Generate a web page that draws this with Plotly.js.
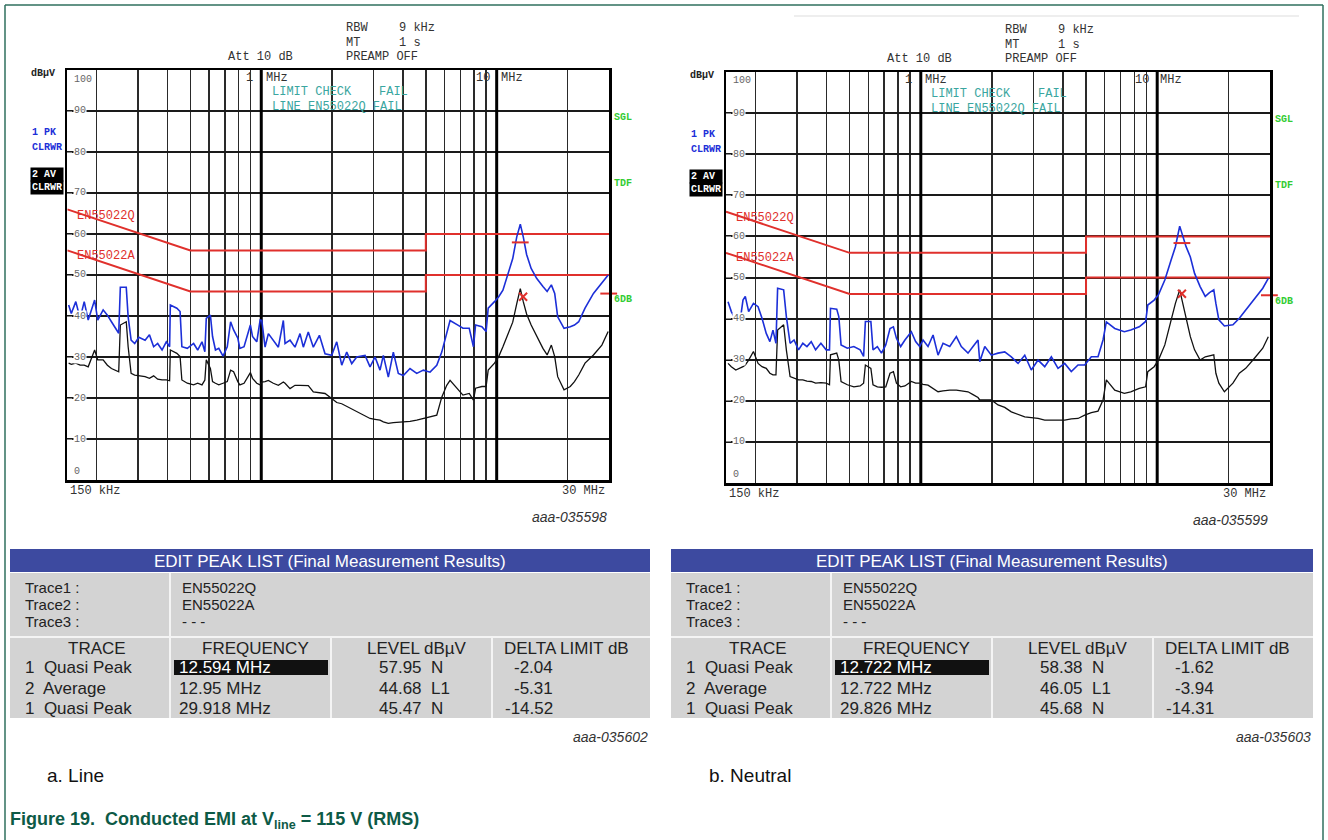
<!DOCTYPE html>
<html><head><meta charset="utf-8">
<script src="https://cdn.plot.ly/plotly-3.0.1.min.js"></script>
<style>html,body{margin:0;padding:0;background:#fff}#chart{width:1328px;height:840px}</style>
</head><body><div id="chart"></div>
<script>
// ---------------- DATA ----------------
// a. Line
const LINE_FREQ_MHZ = [0.152,0.156,0.163,0.170,0.177,0.184,0.196,0.202,0.213,0.222,0.231,0.241,0.248,0.252,0.267,0.272,0.280,0.290,0.302,0.321,0.335,0.349,0.363,0.379,0.395,0.408,0.411,0.438,0.452,0.460,0.485,0.516,0.537,0.560,0.576,0.584,0.608,0.621,0.639,0.660,0.688,0.717,0.741,0.763,0.795,0.811,0.845,0.899,0.918,0.957,0.989,1.005,1.038,1.072,1.125,1.182,1.241,1.262,1.325,1.391,1.461,1.509,1.584,1.664,1.766,1.866,1.992,2.092,2.197,2.307,2.423,2.544,2.760,2.898,3.042,3.195,3.300,3.465,3.639,3.821,4.013,4.284,4.575,4.881,5.211,5.565,5.844,6.135,6.338,6.872,7.190,7.646,7.968,8.136,8.654,9.017,9.204,9.790,10.20,10.63,11.31,11.70,12.17,12.60,12.97,13.40,14.01,14.78,15.72,16.38,17.07,17.64,18.16,19.32,20.54,21.40,22.31,23.73,25.77,27.98,29.76];
const LINE_PEAK_DBUV = [42.7,40.6,43.5,39.4,43.5,39.0,43.9,39.0,41.5,40.2,38.6,37.0,35.8,47.0,47.0,39.8,34.1,33.3,34.8,34.1,35.4,32.5,33.3,31.7,33.7,32.5,42.7,41.9,41.1,32.5,32.1,33.3,31.7,33.7,31.3,39.4,40.2,35.0,31.7,32.1,30.2,32.5,38.6,36.6,34.6,32.1,32.5,37.8,35.0,33.7,39.0,38.9,32.4,35.7,34.1,32.4,38.9,33.3,34.1,32.4,35.7,32.4,36.1,32.4,35.3,30.8,30.4,33.7,28.0,31.2,28.4,30.0,30.4,27.6,30.0,26.8,30.4,25.1,31.2,26.0,25.5,27.2,26.0,26.8,26.3,28.0,31.2,35.7,38.9,37.7,37.0,37.0,32.5,37.8,37.4,36.2,41.9,43.5,44.7,46.3,51.2,54.0,59.3,62.4,59.3,55.0,51.6,49.2,47.2,46.0,47.6,45.5,39.8,37.0,37.4,37.8,38.6,41.9,45.5,48.0,50.0];
const LINE_AVG_DBUV = [28.5,28.2,28.5,28.0,28.0,27.6,31.7,29.3,29.3,28.0,27.2,26.7,26.4,37.8,38.6,32.5,26.0,25.6,25.4,25.2,24.8,25.4,24.6,24.4,24.4,24.2,31.7,30.9,30.1,24.4,23.6,23.2,23.6,23.2,24.4,29.3,27.2,24.0,23.6,23.2,23.6,24.0,26.8,26.4,24.0,23.2,23.6,26.2,24.8,23.6,23.2,23.9,24.0,24.3,23.6,23.1,23.9,23.6,22.3,23.1,23.1,23.1,23.0,21.5,21.3,21.1,19.9,18.9,18.6,18.0,17.4,16.8,15.8,15.0,14.8,14.6,14.2,13.8,14.0,14.1,14.1,14.3,14.6,15.0,15.4,15.8,20.2,23.1,24.3,21.9,20.7,21.1,19.5,22.4,22.8,22.8,26.8,28.5,30.1,32.5,36.2,38.5,43.0,46.7,43.5,40.5,37.8,35.0,32.1,30.5,32.9,30.1,25.2,22.0,22.8,24.0,25.6,28.5,30.5,32.9,36.2];

// b. Neutral
const NEUTRAL_FREQ_MHZ = [0.153,0.158,0.165,0.172,0.177,0.181,0.187,0.196,0.205,0.213,0.222,0.230,0.237,0.244,0.248,0.263,0.270,0.280,0.291,0.304,0.317,0.330,0.344,0.359,0.378,0.398,0.411,0.415,0.441,0.450,0.460,0.489,0.521,0.554,0.573,0.583,0.615,0.628,0.655,0.682,0.711,0.741,0.766,0.789,0.822,0.857,0.912,0.951,0.990,1.022,1.073,1.127,1.183,1.242,1.326,1.414,1.484,1.584,1.663,1.746,1.776,1.865,1.988,2.122,2.265,2.415,2.579,2.753,2.934,3.133,3.344,3.567,3.807,4.062,4.332,4.624,4.935,5.265,5.619,5.901,6.093,6.614,7.262,7.727,8.396,8.935,9.122,9.707,10.12,10.77,11.46,11.94,12.45,13.25,13.81,14.39,15.19,15.97,16.64,17.35,17.71,18.23,19.24,20.91,22.25,23.68,25.73,27.96,29.51];
const NEUTRAL_PEAK_DBUV = [44.1,41.7,39.7,39.3,44.5,45.4,41.7,43.7,42.9,40.1,36.4,34.4,37.2,34.0,47.4,47.0,40.5,34.0,34.8,32.4,34.0,33.2,34.4,32.4,34.0,32.4,32.4,42.5,42.3,40.5,33.6,32.8,33.2,32.4,30.8,39.3,39.3,32.4,33.2,31.6,33.6,37.6,38.0,35.2,33.2,34.8,36.8,34.4,33.2,34.8,33.2,36.0,31.1,34.0,33.2,35.6,33.2,31.6,33.2,34.8,29.5,33.2,31.1,31.6,31.9,30.7,29.1,31.1,27.5,29.9,28.3,30.7,27.9,29.1,27.1,28.7,28.7,30.7,30.7,34.8,39.2,37.6,36.8,37.2,38.0,39.3,43.3,44.5,45.8,49.4,54.3,57.5,62.5,57.5,55.0,51.0,47.8,45.4,46.3,47.0,43.7,39.7,38.2,38.5,40.1,42.1,44.9,47.4,49.8];
const NEUTRAL_AVG_DBUV = [29.1,28.3,27.5,27.9,28.3,28.7,29.9,32.0,29.1,28.3,27.9,26.7,26.3,26.3,37.2,38.5,32.4,25.9,25.5,25.1,25.1,24.8,24.7,24.3,24.4,24.3,23.9,31.2,31.6,29.9,24.7,23.9,23.4,23.6,24.3,28.7,27.9,23.9,23.4,23.3,23.4,26.7,27.1,24.3,23.4,23.6,24.7,24.3,24.3,24.0,23.8,23.0,22.2,22.4,22.6,22.6,22.4,22.2,21.5,20.8,20.2,20.2,20.2,19.0,18.4,17.3,16.7,16.1,15.9,15.7,15.3,15.3,15.3,15.3,15.6,15.7,16.5,17.1,17.5,20.2,25.1,22.6,21.8,22.2,23.0,23.4,27.1,28.3,29.9,33.6,39.7,43.7,47.0,40.5,35.6,32.4,29.9,30.7,30.9,31.2,26.7,24.3,22.2,24.3,26.7,27.9,30.3,32.8,35.6];

// EN55022 class B limits
const LIMIT_FREQ_MHZ = [0.15, 0.5, 5, 5, 30];
const LIMIT_QP_DBUV = [66, 56, 56, 60, 60];
const LIMIT_AV_DBUV = [56, 46, 46, 50, 50];

// Peak list markers (QP, AV, QP at 30 MHz)
const LINE_MARK_FREQ = [12.594, 12.95, 29.918];
const LINE_MARK_LEVEL = [57.95, 44.68, 45.47];
const NEUTRAL_MARK_FREQ = [12.722, 12.722, 29.826];
const NEUTRAL_MARK_LEVEL = [58.38, 46.05, 45.68];

const Y_TICKS = [0,10,20,30,40,50,60,70,80,90,100];
const DECADE_MARKERS_MHZ = [1, 10];

// Tables
const TRACE_LABELS = ['Trace1 :', 'Trace2 :', 'Trace3 :'];
const TRACE_VALUES = ['EN55022Q', 'EN55022A', '- - -'];
const TABLE_HEADERS = ['TRACE', 'FREQUENCY', 'LEVEL dBµV', 'DELTA LIMIT dB'];
const ROW_TRACES = ['1  Quasi Peak', '2  Average', '1  Quasi Peak'];
const LINE_FREQ_TXT = ['12.594 MHz', '12.95 MHz', '29.918 MHz'];
const LINE_LEVEL_TXT = ['57.95  N', '44.68  L1', '45.47  N'];
const LINE_DELTA_TXT = ['-2.04', '-5.31', '-14.52'];
const NEUTRAL_FREQ_TXT = ['12.722 MHz', '12.722 MHz', '29.826 MHz'];
const NEUTRAL_LEVEL_TXT = ['58.38  N', '46.05  L1', '45.68  N'];
const NEUTRAL_DELTA_TXT = ['-1.62', '-3.94', '-14.31'];

// ---------------- DRAWING ----------------
const W = 1328, H = 840;
const px = x => x / W;
const py = y => 1 - y / H;
const MONO = 'Liberation Mono, Courier New, monospace';
const SANS = 'Liberation Sans, Arial, sans-serif';
const BLUE = '#1c2fd8', RED = '#e0302c', TEAL = '#3aa6a0', GREEN = '#33cc33';

const annotations = [];
const shapes = [];
function ann(x, y, text, o) {
  annotations.push(Object.assign({xref:'paper', yref:'paper', x:px(x), y:py(y), text:text,
    showarrow:false, xanchor:'left', yanchor:'middle',
    font:{family:MONO, size:12, color:'#333'}}, o || {}));
}
function rect(x0, y0, x1, y1, fill) {
  shapes.push({type:'rect', xref:'paper', yref:'paper', x0:px(x0), x1:px(x1), y0:py(y0), y1:py(y1),
    fillcolor:fill, line:{width:0}, layer:'below'});
}
function line(x0, y0, x1, y1, color, w) {
  shapes.push({type:'line', xref:'paper', yref:'paper', x0:px(x0), x1:px(x1), y0:py(y0), y1:py(y1),
    line:{color:color, width:w}});
}

const PLOTS = [
  {L:67.3, T:70, Wd:541.7, Ht:410, id:'aaa-035598'},
  {L:726, T:72, Wd:544, Ht:411, id:'aaa-035599'}
];

function decor(p) {
  const {L, T, Wd, Ht} = p;
  const m = {family:MONO, size:12, color:'#333'};
  ann(L+277, T-42, 'RBW', {font:m}); ann(L+330, T-42, '9 kHz', {font:m});
  ann(L+277, T-27, 'MT', {font:m}); ann(L+330, T-27, '1 s', {font:m});
  ann(L+159, T-13, 'Att 10 dB', {font:m}); ann(L+277, T-13, 'PREAMP OFF', {font:m});
  ann(L-38, T+3, '<b>dBµV</b>', {font:{family:MONO, size:10, color:'#222'}});
  ann(L+177, T+8, '1', {font:m}); ann(L+197, T+8, 'MHz', {font:m});
  ann(L+407, T+8, '10', {font:m}); ann(L+432, T+8, 'MHz', {font:m});
  const t = {family:MONO, size:12, color:TEAL};
  ann(L+203, T+22, 'LIMIT CHECK', {font:t}); ann(L+310, T+22, 'FAIL', {font:t});
  ann(L+203, T+37, 'LINE EN55022Q FAIL', {font:t});
  const b = {family:MONO, size:10, color:BLUE};
  ann(L-37, T+62, '<b>1 PK</b>', {font:b}); ann(L-37, T+77, '<b>CLRWR</b>', {font:b});
  const w = {family:MONO, size:10, color:'#fff'};
  ann(L-37, T+104, '<b>2 AV</b>', {font:w, bgcolor:'#000', width:30, align:'left', borderpad:1});
  ann(L-37, T+118, '<b>CLRWR</b>', {font:w, bgcolor:'#000', width:30, align:'left', borderpad:1});
  const g = {family:MONO, size:10, color:GREEN};
  ann(L+Wd+3, T+48, '<b>SGL</b>', {font:g});
  ann(L+Wd+3, T+113, '<b>TDF</b>', {font:g});
  ann(L+Wd+3, T+229, '<b>6DB</b>', {font:g});
  const r = {family:MONO, size:12, color:RED};
  ann(L+8, T+146, 'EN55022Q', {font:r});
  ann(L+8, T+186, 'EN55022A', {font:r});
  const k = {family:MONO, size:10, color:'#666'};
  Y_TICKS.forEach(v => {
    let yy = T + Ht - v * Ht / 100;
    if (v === 100) yy += 9;
    if (v === 0) yy -= 9;
    const isEnd = (v === 100 || v === 0);
    ann(L + 6, yy, String(v), {font:k, bgcolor: isEnd ? 'rgba(0,0,0,0)' : '#fff', borderpad:0});
  });
  ann(L+1, T+Ht+11, '150 kHz', {font:m});
  ann(L+Wd-2, T+Ht+11, '30 MHz', {font:m, xanchor:'right'});
  ann(L+Wd, T+Ht+37, '<i>' + p.id + '</i>', {font:{family:SANS, size:14, color:'#333'}, xanchor:'right'});
}
PLOTS.forEach(decor);

// tables
function table(X0, X1, freqTxt, levelTxt, deltaTxt, id) {
  rect(X0, 549, X1, 572, '#3d4aa0');
  rect(X0, 573, X1, 718, '#d3d3d3');
  line(X0, 637, X1, 637, '#f4f4f4', 2);
  line(X0+160, 573, X0+160, 718, '#f4f4f4', 2);
  line(X0+321, 637, X0+321, 718, '#f4f4f4', 2);
  line(X0+482, 637, X0+482, 718, '#f4f4f4', 2);
  const f = {family:SANS, size:17, color:'#222'};
  const fs = {family:SANS, size:15, color:'#222'};
  ann((X0+X1)/2, 561, 'EDIT PEAK LIST (Final Measurement Results)', {font:{family:SANS, size:17, color:'#fff'}, xanchor:'center'});
  const traceY = [587, 604, 621];
  TRACE_LABELS.forEach((s, i) => ann(X0+13, traceY[i], s, {font:fs}));
  TRACE_VALUES.forEach((s, i) => ann(X0+170, traceY[i], s, {font:fs}));
  const hx = [X0+87, X0+245, X0+407, X0+556];
  TABLE_HEADERS.forEach((s, i) => ann(hx[i], 648, s, {font:f, xanchor:'center'}));
  const rowY = [667, 688, 708];
  rect(X0+164, 660, X0+318, 675, '#111');
  ROW_TRACES.forEach((s, i) => ann(X0+13, rowY[i], s.replace(/  /g, '&nbsp; '), {font:f}));
  freqTxt.forEach((s, i) => ann(X0+167, rowY[i], s, {font:{family:SANS, size:17, color: i === 0 ? '#fff' : '#222'}}));
  levelTxt.forEach((s, i) => ann(X0+367, rowY[i], s.replace(/  /g, '&nbsp; '), {font:f}));
  deltaTxt.forEach((s, i) => ann(X0+545, rowY[i], s, {font:f, xanchor:'right'}));
  ann(X1, 737, '<i>' + id + '</i>', {font:{family:SANS, size:14, color:'#333'}, xanchor:'right'});
}
table(10, 650, LINE_FREQ_TXT, LINE_LEVEL_TXT, LINE_DELTA_TXT, 'aaa-035602');
table(671, 1313, NEUTRAL_FREQ_TXT, NEUTRAL_LEVEL_TXT, NEUTRAL_DELTA_TXT, 'aaa-035603');

// captions
ann(45, 775, 'a. Line', {font:{family:SANS, size:19, color:'#111'}});
ann(707, 775, 'b. Neutral', {font:{family:SANS, size:19, color:'#111'}});
ann(8, 820, '<b>Figure 19.  Conducted EMI at V<sub>line</sub> = 115 V (RMS)</b>', {font:{family:SANS, size:18, color:'#0d5a46'}});

// outer frame
line(5, 5, 1323, 5, '#2f6f5e', 1.5);
line(5, 5, 5, 840, '#2f6f5e', 1.5);
line(1323, 5, 1323, 840, '#2f6f5e', 1.5);
line(794, 16, 1299, 16, '#dddddd', 1);

// traces
function plotTraces(ax, ay, F, PK, AV, MF, ML) {
  const t = [];
  DECADE_MARKERS_MHZ.forEach(f => t.push({x:[f, f], y:[Y_TICKS[0], Y_TICKS[Y_TICKS.length-1]], xaxis:ax, yaxis:ay,
    mode:'lines', line:{color:'#000', width:3}, hoverinfo:'skip'}));
  t.push({x:LIMIT_FREQ_MHZ, y:LIMIT_QP_DBUV, xaxis:ax, yaxis:ay, mode:'lines', line:{color:RED, width:2}});
  t.push({x:LIMIT_FREQ_MHZ, y:LIMIT_AV_DBUV, xaxis:ax, yaxis:ay, mode:'lines', line:{color:RED, width:2}});
  t.push({x:F, y:AV, xaxis:ax, yaxis:ay, mode:'lines', line:{color:'#111', width:1.3}});
  t.push({x:F, y:PK, xaxis:ax, yaxis:ay, mode:'lines', line:{color:BLUE, width:1.6}});
  const sym = ['line-ew-open', 'x-thin-open', 'line-ew-open'];
  MF.forEach((f, i) => t.push({x:[f], y:[ML[i]], xaxis:ax, yaxis:ay, mode:'markers', cliponaxis:false,
    marker:{symbol:sym[i], size: i === 1 ? 8 : 12, color:RED, line:{color:RED, width:2}}}));
  return t;
}
const data = [].concat(
  plotTraces('x', 'y', LINE_FREQ_MHZ, LINE_PEAK_DBUV, LINE_AVG_DBUV, LINE_MARK_FREQ, LINE_MARK_LEVEL),
  plotTraces('x2', 'y2', NEUTRAL_FREQ_MHZ, NEUTRAL_PEAK_DBUV, NEUTRAL_AVG_DBUV, NEUTRAL_MARK_FREQ, NEUTRAL_MARK_LEVEL)
);

function xAxis(p, anchor) {
  return {type:'log', domain:[px(p.L), px(p.L+p.Wd)], range:[Math.log10(0.15), Math.log10(30)],
    dtick:'D1', showticklabels:false, ticks:'', showgrid:true, gridcolor:'#2a2a2a', gridwidth:1.4,
    showline:true, mirror:true, linecolor:'#000', linewidth:2.5, zeroline:false, anchor:anchor, fixedrange:true};
}
function yAxis(p, anchor) {
  return {domain:[py(p.T+p.Ht), py(p.T)], range:[Y_TICKS[0], Y_TICKS[Y_TICKS.length-1]], tickvals:Y_TICKS,
    showticklabels:false, ticks:'inside', ticklen:5, tickcolor:'#888', tickwidth:1,
    showgrid:true, gridcolor:'#1a1a1a', gridwidth:2, showline:true, mirror:true, linecolor:'#000',
    linewidth:2.5, zeroline:false, anchor:anchor, fixedrange:true};
}

const layout = {
  width:W, height:H, margin:{l:0, r:0, t:0, b:0}, showlegend:false,
  paper_bgcolor:'#fff', plot_bgcolor:'#fff',
  xaxis:xAxis(PLOTS[0], 'y'), yaxis:yAxis(PLOTS[0], 'x'),
  xaxis2:xAxis(PLOTS[1], 'y2'), yaxis2:yAxis(PLOTS[1], 'x2'),
  annotations:annotations, shapes:shapes
};
Plotly.newPlot('chart', data, layout, {staticPlot:true, displayModeBar:false});
</script></body></html>
